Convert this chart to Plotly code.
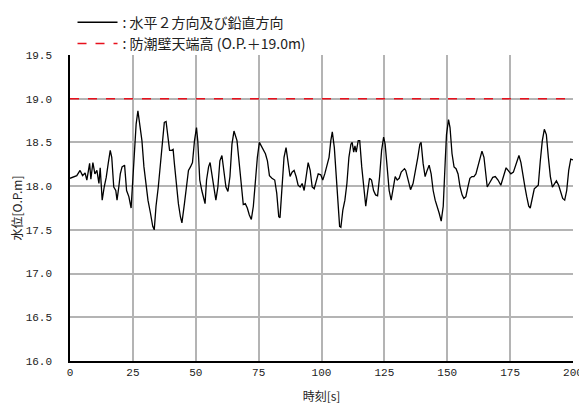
import plotly.graph_objs as go

# time [s] and water level [O.P.m]
time_s = [0, 2.7, 4, 5, 6, 6.7, 7.8, 8.3, 9.1, 9.9, 10.7, 11.5, 12, 12.8, 13.6, 14.4, 15.2, 16, 16.6, 17.4,
          18.2, 18.7, 19.4, 20, 20.7, 21.7, 22.5, 23.4, 24.3, 25, 25.7, 26.3, 27, 27.8, 28.6, 29.4, 30.2, 31, 32, 32.9,
          33.5, 34.2, 35.1, 35.9, 36.7, 37.5, 38.2, 38.8, 39.6, 40.4, 41, 41.5, 42.3, 43.1, 43.9, 44.5, 45.5, 46.3, 47.1, 47.9,
          48.7, 49.5, 50.3, 50.8, 51.6, 52.4, 53.2, 53.7, 54.3, 55.1, 55.7, 56.4, 57.2, 58, 58.8, 59.6, 60.4, 61.2, 62, 62.8,
          63.6, 64.4, 65.2, 66.4, 67.3, 68.1, 68.9, 69.7, 70.5, 71.3, 72.1, 72.9, 73.7, 74.5, 75.3, 76.1, 76.9, 77.7, 78.5, 79.3,
          80.3, 81.4, 82.2, 83, 83.5, 84.3, 85.1, 85.9, 86.7, 87.5, 88.3, 89.1, 89.9, 90.7, 91.5, 92.3, 93.1, 93.9, 94.7, 95.5,
          96.3, 97.1, 97.9, 98.7, 99.7, 100.5, 101.3, 102.1, 103, 103.7, 104.3, 105.1, 105.6, 106.4, 107.2, 107.7, 108.5, 109.3, 110.1, 110.9,
          111.7, 112.2, 112.8, 113.3, 113.8, 114.6, 115.2, 116, 116.8, 117.6, 118.4, 119.1, 119.9, 120.7, 121.5, 122.3, 123.1, 123.9, 124.7, 125.3,
          126.1, 126.9, 127.7, 128.5, 129.3, 130.1, 130.9, 131.7, 133, 133.5, 134.3, 135.4, 136.4, 137.5, 138.3, 139.1, 139.6, 140.4, 141.2, 142,
          142.8, 143.6, 144.4, 145.2, 146, 146.8, 147.6, 148.4, 149.2, 149.7, 150.5, 151.1, 151.9, 152.7, 153.5, 154.3, 155.1, 155.9, 156.6, 157.4,
          158.2, 159, 159.8, 160.6, 161.4, 162.2, 163, 163.8, 164.6, 165.4, 165.9, 167.1, 168.1, 169.1, 170.2, 171.3, 172.3, 173.4, 174.2, 175.3,
          176.3, 177.4, 178.5, 179.3, 180.1, 180.9, 181.6, 182.4, 183, 183.8, 184.6, 185.4, 186.2, 187, 187.8, 188.6, 189.4, 190.2, 191, 191.8,
          192.6, 193.4, 194.3, 195.1, 195.9, 196.7, 197.5, 198.3, 199.1, 200]
level = [18.09, 18.12, 18.18, 18.12, 18.15, 18.07, 18.26, 18.08, 18.27, 18.14, 18.18, 18.03, 18.21, 17.84, 17.99, 18.1, 18.26, 18.41, 18.33, 17.99,
         17.95, 17.84, 17.99, 18.14, 18.22, 18.24, 17.95, 17.88, 17.75, 18.1, 18.37, 18.71, 18.86, 18.71, 18.52, 18.22, 18.03, 17.84, 17.69, 17.54,
         17.5, 17.77, 17.99, 18.22, 18.52, 18.73, 18.74, 18.59, 18.41, 18.41, 18.42, 18.26, 17.99, 17.8, 17.65, 17.58, 17.8, 18.03, 18.18, 18.22,
         18.27, 18.52, 18.67, 18.52, 18.07, 17.95, 17.84, 17.8, 18.07, 18.22, 18.27, 18.14, 17.95, 17.84, 17.99, 18.29, 18.35, 18.14, 17.99, 17.94,
         18.11, 18.48, 18.63, 18.52, 18.26, 17.99, 17.79, 17.8, 17.75, 17.67, 17.62, 17.77, 18.07, 18.33, 18.5, 18.46, 18.41, 18.37, 18.29, 18.12,
         18.09, 18.07, 17.92, 17.65, 17.64, 17.95, 18.33, 18.44, 18.29, 18.11, 18.16, 18.18, 18.11, 18.01, 17.99, 18.03, 17.95, 18.11, 18.27, 18.18,
         17.99, 17.97, 18.05, 18.14, 18.13, 18.07, 18.14, 18.22, 18.33, 18.52, 18.62, 18.44, 18.22, 17.84, 17.54, 17.53, 17.73, 17.84, 18.03, 18.33,
         18.48, 18.5, 18.39, 18.46, 18.39, 18.52, 18.52, 18.22, 17.95, 17.77, 17.95, 18.09, 18.07, 17.95, 17.9, 17.89, 18.11, 18.41, 18.56, 18.48,
         18.22, 17.95, 17.84, 17.99, 18.11, 18.07, 18.09, 18.16, 18.2, 18.18, 18.07, 17.96, 18.03, 18.18, 18.33, 18.48, 18.5, 18.26, 18.11, 18.18,
         18.24, 18.14, 17.95, 17.84, 17.77, 17.69, 17.6, 17.77, 18.29, 18.59, 18.76, 18.67, 18.37, 18.22, 18.2, 18.14, 17.99, 17.9, 17.86, 17.88,
         17.99, 18.09, 18.11, 18.11, 18.14, 18.22, 18.33, 18.4, 18.33, 18.11, 17.99, 18.05, 18.1, 18.11, 18.07, 18.01, 18.11, 18.21, 18.18, 18.14,
         18.16, 18.26, 18.35, 18.27, 18.11, 17.99, 17.88, 17.77, 17.75, 17.88, 17.97, 17.99, 18.01, 18.29, 18.52, 18.65, 18.59, 18.33, 18.11, 17.99,
         18.03, 18.06, 18.01, 17.92, 17.86, 17.84, 17.95, 18.18, 18.31, 18.3]

# seawall crest height (O.P.+19.0m)
wall_time = [0, 200]
wall_level = [19.0, 19.0]

num_font = "Liberation Mono"
jp_font = "Noto Sans CJK JP"

fig = go.Figure()

fig.add_trace(go.Scatter(
    x=time_s, y=level, mode="lines",
    line=dict(color="black", width=1.3),
    name=": 水平２方向及び鉛直方向",
))
fig.add_trace(go.Scatter(
    x=wall_time, y=wall_level, mode="lines",
    line=dict(color="#e8101c", width=1.5, dash="dash"),
    name=": 防潮壁天端高 (O.P.＋19.0m)",
))

# the page body adds 8px around the figure, so the figure is 8px smaller
fig.update_layout(
    width=579, height=404,
    margin=dict(l=62, r=14, t=47, b=51, autoexpand=False),
    paper_bgcolor="white", plot_bgcolor="white",
    showlegend=True,
    legend=dict(
        x=0.005, xanchor="left", y=1.158, yanchor="top",
        font=dict(family=jp_font, size=14, color="#222"),
        bgcolor="rgba(0,0,0,0)", tracegroupgap=0, itemwidth=40,
    ),
    xaxis=dict(
        range=[0, 200], dtick=25, tick0=0, automargin=False,
        showgrid=True, gridcolor="#b4b4b4", gridwidth=1.5,
        showline=True, linecolor="black", linewidth=1.5,
        ticks="", zeroline=False,
        tickfont=dict(family=num_font, size=11, color="#222"),
        title=dict(text="時刻[s]", font=dict(family=jp_font, size=12, color="#222"), standoff=15),
    ),
    yaxis=dict(
        range=[16, 19.5], dtick=0.5, tick0=16, tickformat=".1f", automargin=False,
        showgrid=True, gridcolor="#b4b4b4", gridwidth=1.5,
        showline=True, linecolor="black", linewidth=1.5,
        ticks="", zeroline=False, ticklabelstandoff=14,
        tickfont=dict(family=num_font, size=11, color="#222"),
        title=dict(text="水位[O.P.m]", font=dict(family=jp_font, size=12, color="#222"), standoff=4),
    ),
)

fig.write_html("out.html")
